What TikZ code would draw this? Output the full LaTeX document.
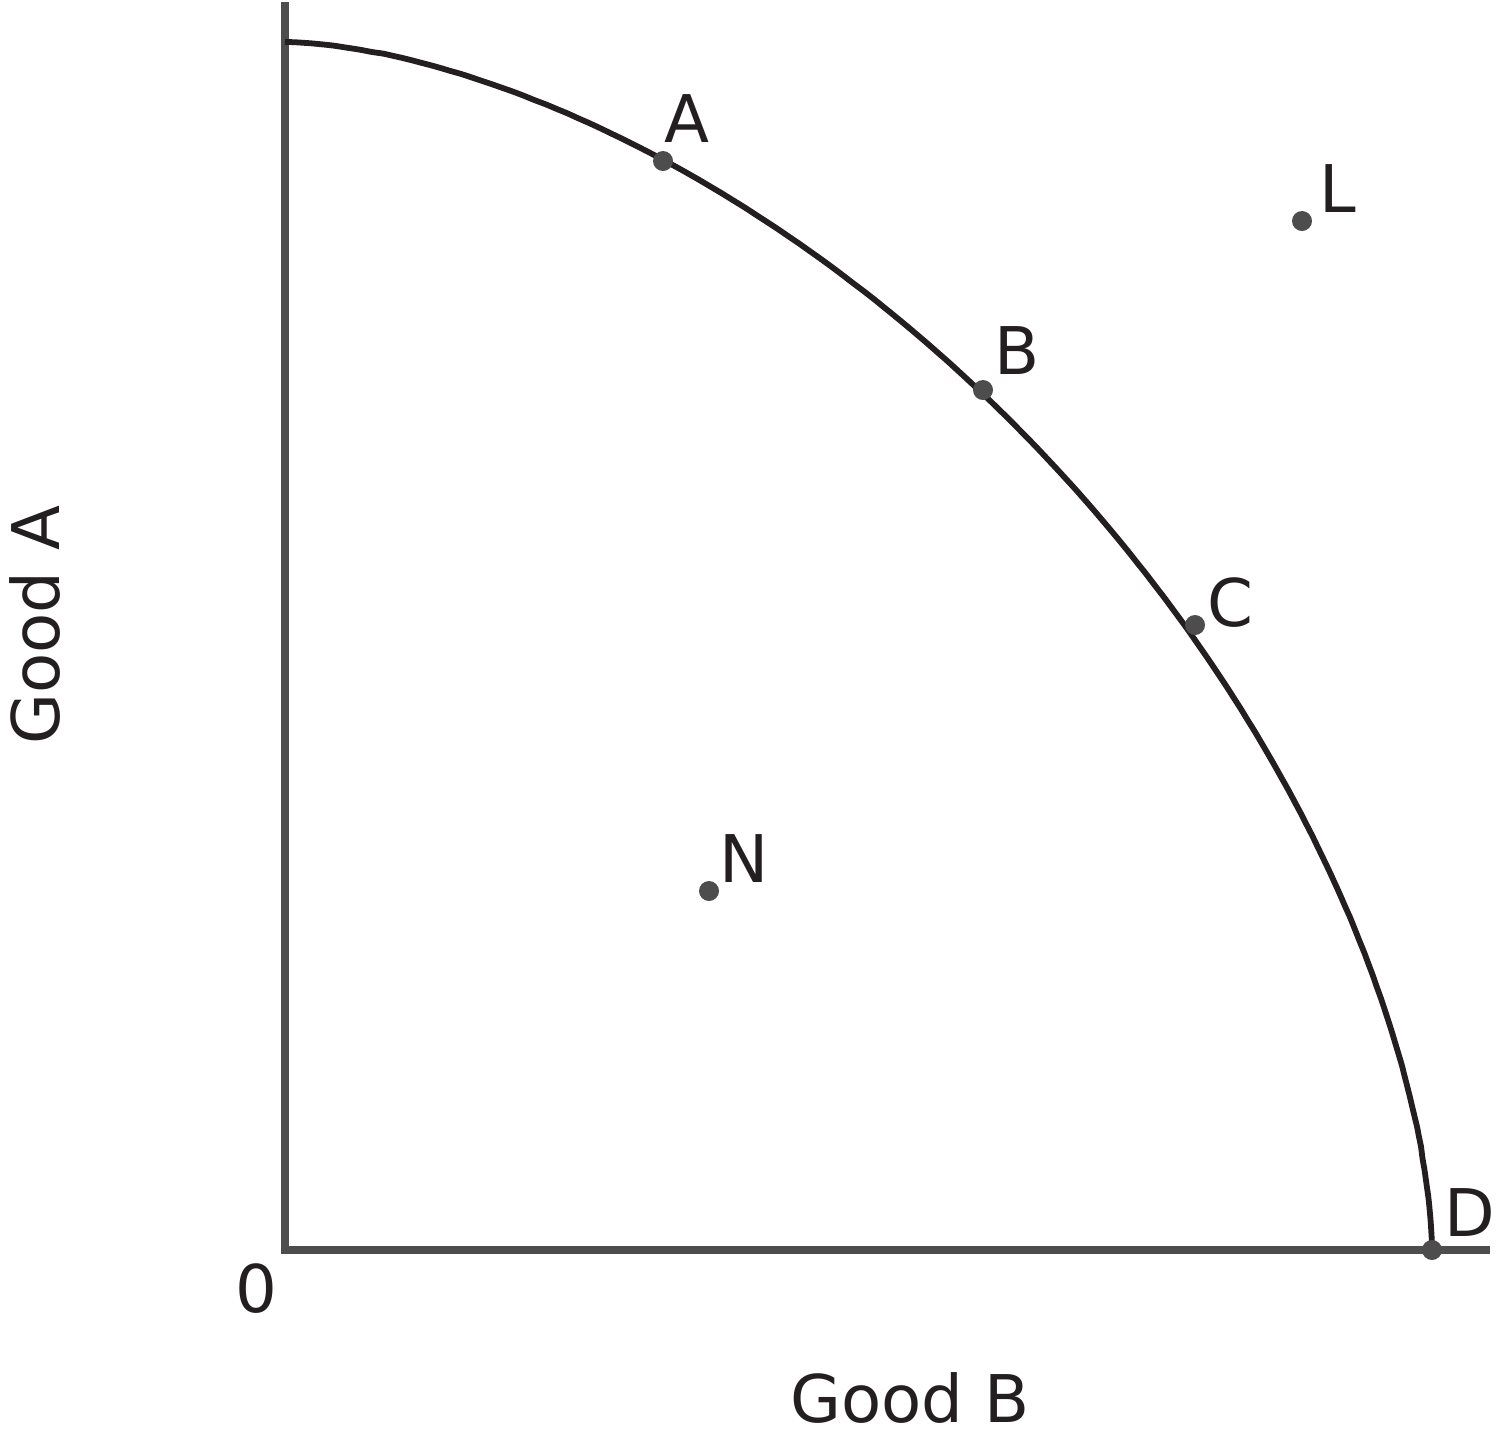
\documentclass[tikz,border=0pt]{standalone}
\usepackage{fontspec}
\setmainfont{DejaVu Sans}
\definecolor{axisgray}{HTML}{4D4D4D}
\definecolor{inkdark}{HTML}{231F20}
\begin{document}
\begin{tikzpicture}[x=0.01cm,y=-0.01cm,
  axisline/.style={draw=axisgray,line width=2pt},
  ppf/.style={draw=inkdark,line width=1.65pt},
  pt/.style={circle,fill=axisgray,inner sep=0pt,minimum size=0.2cm},
  lbl/.style={text=inkdark,font=\fontsize{18.7}{22}\selectfont,inner sep=0pt,anchor=base}]
\useasboundingbox (0,0) rectangle (1496,1442);
% axes
\coordinate (ytop) at (285,2);
\coordinate (origin) at (285,1250);
\coordinate (xend) at (1490,1250);
\draw[axisline,line cap=butt] (ytop) -- ([yshift=-1pt]origin) ;
\draw[axisline] ([xshift=-1pt]origin) -- (xend);
% production possibilities frontier (superellipse)
\draw[ppf] plot[domain=90:0,samples=150,smooth]
  ({285+1147*pow(max(cos(\x),0.000001),1.2)},{1250-1208*pow(max(sin(\x),0.000001),1.2)});
% points
\node[pt] (pA) at (663,161) {};
\node[pt] (pB) at (983,390) {};
\node[pt] (pC) at (1195,625) {};
\node[pt] (pD) at (1432,1250) {};
\node[pt] (pL) at (1302,221) {};
\node[pt] (pN) at (709,891) {};
% labels
\node[lbl] (lA) at (687,142) {A};
\node[lbl] (lB) at (1017,374) {B};
\node[lbl] (lC) at (1230,626) {C};
\node[lbl] (lD) at (1470,1236) {D};
\node[lbl] (lL) at (1338,212) {L};
\node[lbl] (lN) at (744,882) {N};
\node[lbl] (l0) at (256,1312) {0};
\node[lbl] (xlab) at (910,1422) {Good B};
\node[lbl,rotate=90] (ylab) at (59,625) {Good A};
\end{tikzpicture}
\end{document}
